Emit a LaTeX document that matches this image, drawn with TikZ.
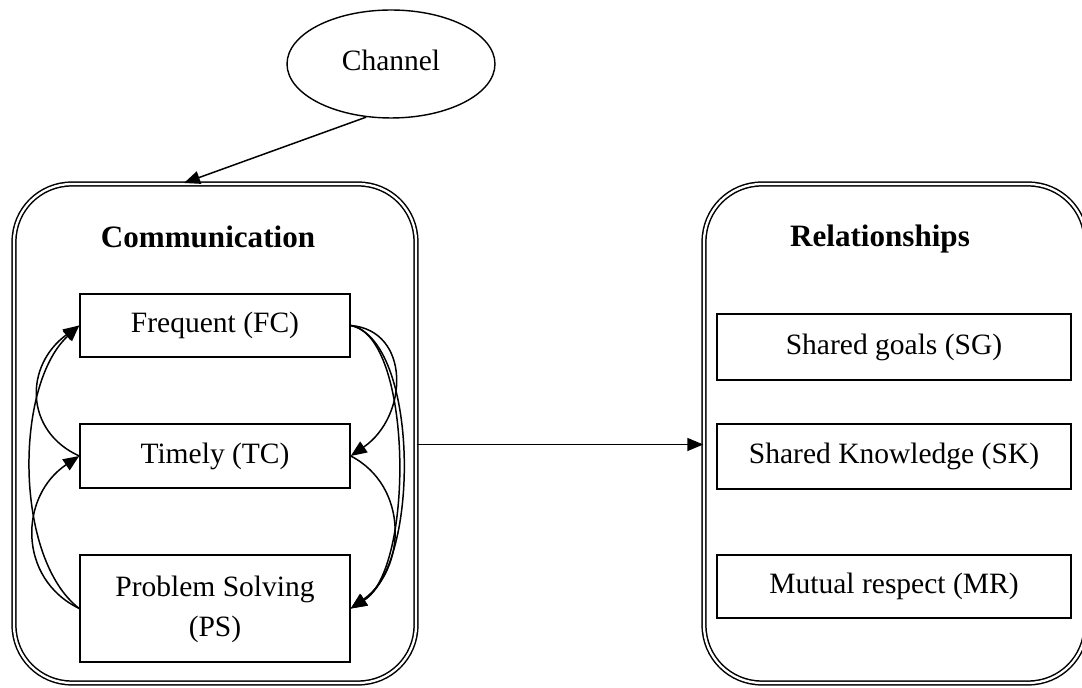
\documentclass[tikz,border=0pt]{standalone}
\usepackage{fontspec}
\setmainfont{Liberation Serif}
\usetikzlibrary{shapes.geometric,arrows.meta}

\begin{document}
\begin{tikzpicture}[x=0.02cm,y=-0.02cm,
  txt/.style={font=\fontsize{16.8}{22.7}\selectfont},
  title/.style={font=\fontsize{17.7}{21}\selectfont\bfseries},
  panel/.style={draw, double, line width=0.85pt, double distance=1.3pt,
    rounded corners=1.15cm, minimum height=9.98cm, minimum width=#1},
  itembox/.style={draw, line width=0.9pt, txt, align=center, inner sep=0pt},
  arr/.style={-{Triangle[length=3.2mm,width=2.6mm]}, line width=0.85pt},
]
\useasboundingbox (0,0) rectangle (1082,688);
\clip (0,0) rectangle (1082,688);

% source of the communication
\node[draw, ellipse, line width=0.8pt, minimum width=4.16cm, minimum height=2.16cm,
      txt, inner sep=0pt] (ch) at (391,64) {\raisebox{0.14cm}{Channel}};

% the two panels
\node[panel=8.04cm] (comm) at (215,433.5) {};
\node[panel=7.64cm] (rel)  at (895,433.5) {};
\node[title] (commt) at (208,237) {Communication};
\node[title] (relt)  at (880,239) {Relationships};

% communication qualities
\node[itembox, minimum width=5.4cm, minimum height=1.26cm] (fc) at (215,325.5) {Frequent (FC)};
\node[itembox, minimum width=5.4cm, minimum height=1.28cm] (tc) at (215,456) {Timely (TC)};
\node[itembox, minimum width=5.4cm, minimum height=2.14cm] (ps) at (215,608.5) {\raisebox{0.12cm}{\begin{tabular}{@{}c@{}}Problem Solving\\(PS)\end{tabular}}};

% relationship qualities
\node[itembox, minimum width=7.08cm, minimum height=1.32cm] (sg) at (894,347) {Shared goals (SG)};
\node[itembox, minimum width=7.08cm, minimum height=1.3cm]  (sk) at (894,456.5) {Shared Knowledge (SK)};
\node[itembox, minimum width=7.08cm, minimum height=1.26cm] (mr) at (894,586.5) {Mutual respect (MR)};

% channel feeds communication
\coordinate (chin) at (184,183);
\draw[arr] (ch.245) -- (chin);

% communication drives relationships
\draw[arr] ([yshift=-0.22cm]comm.east) -- ([yshift=-0.22cm]rel.west);

% links on the left side
\draw[arr] (ps.west) .. controls +(-65,-50) and +(-65,60) .. (fc.west);
\draw[arr] (tc.west) .. controls +(-55,-25) and +(-55,40) .. (fc.west);
\draw[arr] (ps.west) .. controls +(-62,-30) and +(-60,40) .. (tc.west);

% links on the right side
\draw[arr] (fc.east) .. controls +(60,5) and +(58,-40) .. (tc.east);
\draw[arr] (fc.east) .. controls +(68,15) and +(70,-45) .. (ps.east);
\draw[arr] (fc.east) .. controls +(62,10) and +(64,-40) .. (ps.east);
\draw[arr] (tc.east) .. controls +(58,30) and +(56,-40) .. (ps.east);
\end{tikzpicture}
\end{document}
